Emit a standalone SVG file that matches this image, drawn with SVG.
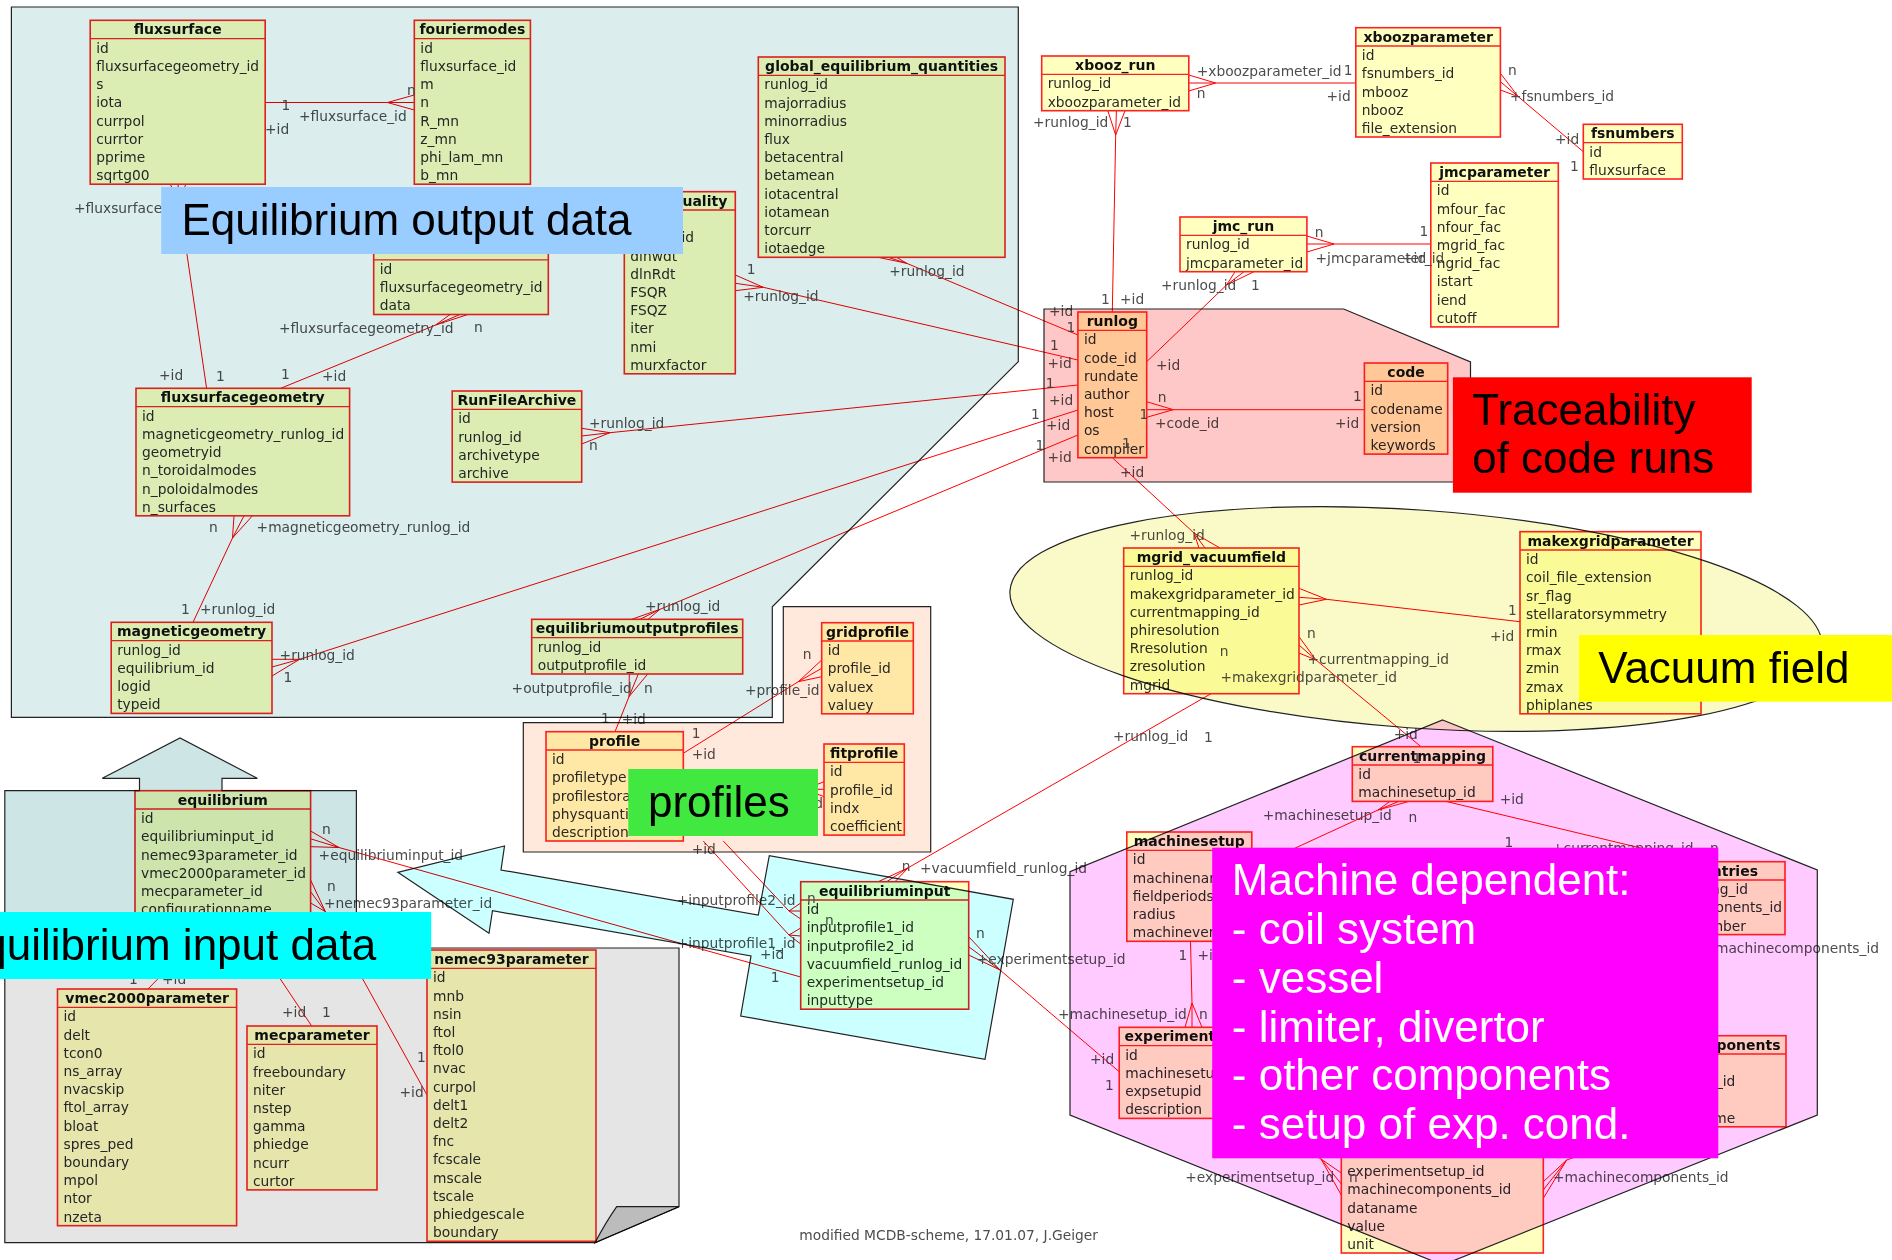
<svg xmlns="http://www.w3.org/2000/svg" width="1892" height="1260" viewBox="0 0 1892 1260">
<style>
.bx{fill:#ffffc0;stroke:#f22;stroke-width:1.6}
.sp{stroke:#f22;stroke-width:1.3}
.t{font:bold 14px "DejaVu Sans",sans-serif;fill:#111;text-anchor:middle}
.te{font:bold 14px "DejaVu Sans",sans-serif;fill:#111;text-anchor:end}
.r{font:13.8px "DejaVu Sans",sans-serif;fill:#2a2a2a}
.re{font:13.8px "DejaVu Sans",sans-serif;fill:#2a2a2a;text-anchor:end}
.l{font:13.8px "DejaVu Sans",sans-serif;fill:#4d4d4d}
.le{font:13.8px "DejaVu Sans",sans-serif;fill:#4d4d4d;text-anchor:end}
.cn{fill:none;stroke:#f00;stroke-width:1}
.rg{stroke:#222;stroke-width:1.2;mix-blend-mode:multiply}
.big{font:44px "Liberation Sans",Arial,sans-serif;fill:#000}
.bigw{font:44px "Liberation Sans",Arial,sans-serif;fill:#fff}
</style>
<rect width="1892" height="1260" fill="#fff"/>

<!-- relationship lines -->
<g id="connectors" class="cn">
<path d="M265.2 102.5H387.4L414.3 95M387.4 102.5L414.3 110M387.4 102.5H414.3"/>
<path d="M179 200L206.6 388.3M179 200L170 184M179 200L178 184M179 200L186 184"/>
<path d="M435.6 325L280.7 388.3M435.6 325L451 313.8M435.6 325L461.5 313.8M435.6 325L470 313.8"/>
<path d="M232.5 538L193 622.3M232.5 538L234 515.8M232.5 538L244 515.8M232.5 538L252.4 515.8"/>
<path d="M299.6 659.3L1077.9 410M299.6 659.3H272M299.6 659.3L272 667M299.6 659.3L272 676"/>
<path d="M610 432.7L1077.9 385M610 432.7L581.7 428.3M610 432.7L581.7 436M610 432.7L581.7 444"/>
<path d="M763.3 287.3L1077.9 360M763.3 287.3L735.3 275M763.3 287.3L735.3 283.3M763.3 287.3L735.3 290.7"/>
<path d="M906.7 263.3L1077.9 335M906.7 263.3L873.3 256.3M906.7 263.3L885 256.3M906.7 263.3L895 256.3"/>
<path d="M660 609.3L1077.9 435M660 609.3L631.7 619.3M660 609.3L640 619.3M660 609.3L648 619.3"/>
<path d="M629 696.7L615 731.7M629 696.7L629.3 674M629 696.7L638.3 674M629 696.7L647.7 674"/>
<path d="M683.3 753.3L798.3 681.7L821.7 660M798.3 681.7L821.7 668.3M798.3 681.7L821.7 676.7"/>
<path d="M683.3 772L805 789.3L824 781.7M805 789.3H824M805 789.3L824 796.7"/>
<path d="M723.3 841L789 911L800.7 903M789 911H800.7M789 911L800.7 919"/>
<path d="M703.3 841L789 935L800.7 928M789 935L800.7 936M789 935L800.7 944"/>
<path d="M339 847.5L800.7 977M339 847.5L310.6 831M339 847.5L310.6 838.8M339 847.5L310.6 846.7"/>
<path d="M325.4 911.7L427 1095M325.4 911.7L310.6 880M325.4 911.7L310.6 891.7M325.4 911.7L310.6 903"/>
<path d="M217 918L148 989"/>
<path d="M239.5 918L311.7 1026"/>
<path d="M1215.6 83H1355.8M1215.6 83L1188.8 75M1215.6 83H1188.8M1215.6 83L1188.8 91"/>
<path d="M1115.7 135L1112.3 312M1115.7 135L1107.8 110.7M1115.7 135L1116.4 110.7M1115.7 135L1125 110.7"/>
<path d="M1518.3 96.7L1583.3 151.7M1518.3 96.7L1500.4 73.3M1518.3 96.7L1500.4 81.7M1518.3 96.7L1500.4 90"/>
<path d="M1334 244H1430.8M1334 244L1306.9 236M1334 244H1306.9M1334 244L1306.9 252"/>
<path d="M1226.6 285L1146.7 361.7M1226.6 285L1235 271.7M1226.6 285L1244 271.7M1226.6 285L1254 271.7"/>
<path d="M1173.3 409.7H1364.4M1173.3 409.7L1146.7 401.7M1173.3 409.7H1146.7M1173.3 409.7L1146.7 417.3"/>
<path d="M1112.3 457.7L1194 533L1199 548M1194 533L1205 548M1194 533L1220 548"/>
<path d="M1326.5 599.3L1520 621.7M1326.5 599.3L1299 588.3M1326.5 599.3L1299 597.3M1326.5 599.3L1299 605"/>
<path d="M1316 660L1421 746.7M1316 660L1299 636.7M1316 660L1299 645M1316 660L1299 653"/>
<path d="M1211 693.7L908.3 867.7L878.3 881.7M908.3 867.7L886.7 881.7M908.3 867.7L895 881.7"/>
<path d="M1378 810L1251.8 868M1378 810L1390 801.4M1378 810L1398.8 801.4M1378 810L1409 801.4"/>
<path d="M1446 801.4L1698 861.7"/>
<path d="M1190.5 941.3L1192 1003L1185 1027.3M1192 1003V1027.3M1192 1003L1202 1027.3"/>
<path d="M1000 970L1119.2 1071.7M1000 970L968.7 936.7M1000 970L968.7 946.7M1000 970L968.7 955"/>
<path d="M1250 1118L1321 1159L1341.3 1173M1321 1159L1341.3 1184M1321 1159L1341.3 1195"/>
<path d="M1566.7 1160L1660 1127M1566.7 1160L1543.3 1181.7M1566.7 1160L1543.3 1190M1566.7 1160L1543.3 1198.3"/>
</g>

<!-- tables -->
<g id="fluxsurface">
<rect class="bx" x="90.2" y="20.3" width="175" height="163.9"/><line class="sp" x1="90.2" y1="38.6" x2="265.2" y2="38.6"/>
<text class="t" x="177.7" y="34.3">fluxsurface</text>
<text class="r" x="96.2" y="52.7">id</text><text class="r" x="96.2" y="70.9">fluxsurfacegeometry_id</text><text class="r" x="96.2" y="89.1">s</text><text class="r" x="96.2" y="107.3">iota</text><text class="r" x="96.2" y="125.5">currpol</text><text class="r" x="96.2" y="143.7">currtor</text><text class="r" x="96.2" y="161.9">pprime</text><text class="r" x="96.2" y="180.1">sqrtg00</text>
</g>
<g id="fouriermodes">
<rect class="bx" x="414.3" y="20.3" width="116.1" height="163.9"/><line class="sp" x1="414.3" y1="38.6" x2="530.4" y2="38.6"/>
<text class="t" x="472.35" y="34.3">fouriermodes</text>
<text class="r" x="420.3" y="52.7">id</text><text class="r" x="420.3" y="70.9">fluxsurface_id</text><text class="r" x="420.3" y="89.1">m</text><text class="r" x="420.3" y="107.3">n</text><text class="r" x="420.3" y="125.5">R_mn</text><text class="r" x="420.3" y="143.7">z_mn</text><text class="r" x="420.3" y="161.9">phi_lam_mn</text><text class="r" x="420.3" y="180.1">b_mn</text>
</g>
<g id="fluxsurface-data">
<rect class="bx" x="373.7" y="241.6" width="174.6" height="72.9"/><line class="sp" x1="373.7" y1="259.9" x2="548.3" y2="259.9"/>
<text class="r" x="379.7" y="274">id</text><text class="r" x="379.7" y="292.2">fluxsurfacegeometry_id</text><text class="r" x="379.7" y="310.4">data</text>
</g>
<g id="quality">
<rect class="bx" x="624.3" y="191.7" width="111" height="182.1"/><line class="sp" x1="624.3" y1="210" x2="735.3" y2="210"/>
<text class="te" x="727.3" y="205.7">quality</text>
<text class="r" x="630.3" y="242.3">runlog_id</text><text class="r" x="630.3" y="260.5">dlnwdt</text><text class="r" x="630.3" y="278.7">dlnRdt</text><text class="r" x="630.3" y="296.9">FSQR</text><text class="r" x="630.3" y="315.1">FSQZ</text><text class="r" x="630.3" y="333.3">iter</text><text class="r" x="630.3" y="351.5">nmi</text><text class="r" x="630.3" y="369.7">murxfactor</text>
</g>
<g id="global_equilibrium_quantities">
<rect class="bx" x="758.3" y="57" width="246.7" height="200.3"/><line class="sp" x1="758.3" y1="75.3" x2="1005" y2="75.3"/>
<text class="t" x="881.65" y="71">global_equilibrium_quantities</text>
<text class="r" x="764.3" y="89.4">runlog_id</text><text class="r" x="764.3" y="107.6">majorradius</text><text class="r" x="764.3" y="125.8">minorradius</text><text class="r" x="764.3" y="144">flux</text><text class="r" x="764.3" y="162.2">betacentral</text><text class="r" x="764.3" y="180.4">betamean</text><text class="r" x="764.3" y="198.6">iotacentral</text><text class="r" x="764.3" y="216.8">iotamean</text><text class="r" x="764.3" y="235">torcurr</text><text class="r" x="764.3" y="253.2">iotaedge</text>
</g>
<g id="fluxsurfacegeometry">
<rect class="bx" x="136" y="388.3" width="213.6" height="127.5"/><line class="sp" x1="136" y1="406.6" x2="349.6" y2="406.6"/>
<text class="t" x="242.8" y="402.3">fluxsurfacegeometry</text>
<text class="r" x="142" y="420.7">id</text><text class="r" x="142" y="438.9">magneticgeometry_runlog_id</text><text class="r" x="142" y="457.1">geometryid</text><text class="r" x="142" y="475.3">n_toroidalmodes</text><text class="r" x="142" y="493.5">n_poloidalmodes</text><text class="r" x="142" y="511.7">n_surfaces</text>
</g>
<g id="RunFileArchive">
<rect class="bx" x="452.2" y="391" width="129.5" height="91.1"/><line class="sp" x1="452.2" y1="409.3" x2="581.7" y2="409.3"/>
<text class="t" x="516.95" y="405">RunFileArchive</text>
<text class="r" x="458.2" y="423.4">id</text><text class="r" x="458.2" y="441.6">runlog_id</text><text class="r" x="458.2" y="459.8">archivetype</text><text class="r" x="458.2" y="478">archive</text>
</g>
<g id="magneticgeometry">
<rect class="bx" x="111.2" y="622.3" width="160.8" height="91.1"/><line class="sp" x1="111.2" y1="640.6" x2="272" y2="640.6"/>
<text class="t" x="191.6" y="636.3">magneticgeometry</text>
<text class="r" x="117.2" y="654.7">runlog_id</text><text class="r" x="117.2" y="672.9">equilibrium_id</text><text class="r" x="117.2" y="691.1">logid</text><text class="r" x="117.2" y="709.3">typeid</text>
</g>
<g id="equilibriumoutputprofiles">
<rect class="bx" x="531.7" y="619.3" width="211" height="54.7"/><line class="sp" x1="531.7" y1="637.6" x2="742.7" y2="637.6"/>
<text class="t" x="637.2" y="633.3">equilibriumoutputprofiles</text>
<text class="r" x="537.7" y="651.7">runlog_id</text><text class="r" x="537.7" y="669.9">outputprofile_id</text>
</g>
<g id="gridprofile">
<rect class="bx" x="821.7" y="622.7" width="91.6" height="91.1"/><line class="sp" x1="821.7" y1="641" x2="913.3" y2="641"/>
<text class="t" x="867.5" y="636.7">gridprofile</text>
<text class="r" x="827.7" y="655.1">id</text><text class="r" x="827.7" y="673.3">profile_id</text><text class="r" x="827.7" y="691.5">valuex</text><text class="r" x="827.7" y="709.7">valuey</text>
</g>
<g id="profile">
<rect class="bx" x="546" y="731.7" width="137.3" height="109.3"/><line class="sp" x1="546" y1="750" x2="683.3" y2="750"/>
<text class="t" x="614.65" y="745.7">profile</text>
<text class="r" x="552" y="764.1">id</text><text class="r" x="552" y="782.3">profiletype</text><text class="r" x="552" y="800.5">profilestorage</text><text class="r" x="552" y="818.7">physquantity</text><text class="r" x="552" y="836.9">description</text>
</g>
<g id="fitprofile">
<rect class="bx" x="824" y="744" width="80.3" height="91.1"/><line class="sp" x1="824" y1="762.3" x2="904.3" y2="762.3"/>
<text class="t" x="864.15" y="758">fitprofile</text>
<text class="r" x="830" y="776.4">id</text><text class="r" x="830" y="794.6">profile_id</text><text class="r" x="830" y="812.8">indx</text><text class="r" x="830" y="831">coefficient</text>
</g>
<g id="xbooz_run">
<rect class="bx" x="1041.7" y="56" width="147.1" height="54.7"/><line class="sp" x1="1041.7" y1="74.3" x2="1188.8" y2="74.3"/>
<text class="t" x="1115.25" y="70">xbooz_run</text>
<text class="r" x="1047.7" y="88.4">runlog_id</text><text class="r" x="1047.7" y="106.6">xboozparameter_id</text>
</g>
<g id="xboozparameter">
<rect class="bx" x="1355.8" y="27.7" width="144.6" height="109.3"/><line class="sp" x1="1355.8" y1="46" x2="1500.4" y2="46"/>
<text class="t" x="1428.1" y="41.7">xboozparameter</text>
<text class="r" x="1361.8" y="60.1">id</text><text class="r" x="1361.8" y="78.3">fsnumbers_id</text><text class="r" x="1361.8" y="96.5">mbooz</text><text class="r" x="1361.8" y="114.7">nbooz</text><text class="r" x="1361.8" y="132.9">file_extension</text>
</g>
<g id="fsnumbers">
<rect class="bx" x="1583.3" y="124.3" width="99" height="54.7"/><line class="sp" x1="1583.3" y1="142.6" x2="1682.3" y2="142.6"/>
<text class="t" x="1632.8" y="138.3">fsnumbers</text>
<text class="r" x="1589.3" y="156.7">id</text><text class="r" x="1589.3" y="174.9">fluxsurface</text>
</g>
<g id="jmc_run">
<rect class="bx" x="1180" y="217" width="126.9" height="54.7"/><line class="sp" x1="1180" y1="235.3" x2="1306.9" y2="235.3"/>
<text class="t" x="1243.45" y="231">jmc_run</text>
<text class="r" x="1186" y="249.4">runlog_id</text><text class="r" x="1186" y="267.6">jmcparameter_id</text>
</g>
<g id="jmcparameter">
<rect class="bx" x="1430.8" y="163" width="127.5" height="163.9"/><line class="sp" x1="1430.8" y1="181.3" x2="1558.3" y2="181.3"/>
<text class="t" x="1494.55" y="177">jmcparameter</text>
<text class="r" x="1436.8" y="195.4">id</text><text class="r" x="1436.8" y="213.6">mfour_fac</text><text class="r" x="1436.8" y="231.8">nfour_fac</text><text class="r" x="1436.8" y="250">mgrid_fac</text><text class="r" x="1436.8" y="268.2">ngrid_fac</text><text class="r" x="1436.8" y="286.4">istart</text><text class="r" x="1436.8" y="304.6">iend</text><text class="r" x="1436.8" y="322.8">cutoff</text>
</g>
<g id="runlog">
<rect class="bx" x="1077.9" y="312" width="68.8" height="145.7"/><line class="sp" x1="1077.9" y1="330.3" x2="1146.7" y2="330.3"/>
<text class="t" x="1112.3" y="326">runlog</text>
<text class="r" x="1083.9" y="344.4">id</text><text class="r" x="1083.9" y="362.6">code_id</text><text class="r" x="1083.9" y="380.8">rundate</text><text class="r" x="1083.9" y="399">author</text><text class="r" x="1083.9" y="417.2">host</text><text class="r" x="1083.9" y="435.4">os</text><text class="r" x="1083.9" y="453.6">compiler</text>
</g>
<g id="code">
<rect class="bx" x="1364.4" y="363" width="83.3" height="91.1"/><line class="sp" x1="1364.4" y1="381.3" x2="1447.7" y2="381.3"/>
<text class="t" x="1406.05" y="377">code</text>
<text class="r" x="1370.4" y="395.4">id</text><text class="r" x="1370.4" y="413.6">codename</text><text class="r" x="1370.4" y="431.8">version</text><text class="r" x="1370.4" y="450">keywords</text>
</g>
<g id="mgrid_vacuumfield">
<rect class="bx" x="1123.7" y="548" width="175.3" height="145.7"/><line class="sp" x1="1123.7" y1="566.3" x2="1299" y2="566.3"/>
<text class="t" x="1211.35" y="562">mgrid_vacuumfield</text>
<text class="r" x="1129.7" y="580.4">runlog_id</text><text class="r" x="1129.7" y="598.6">makexgridparameter_id</text><text class="r" x="1129.7" y="616.8">currentmapping_id</text><text class="r" x="1129.7" y="635">phiresolution</text><text class="r" x="1129.7" y="653.2">Rresolution</text><text class="r" x="1129.7" y="671.4">zresolution</text><text class="r" x="1129.7" y="689.6">mgrid</text>
</g>
<g id="makexgridparameter">
<rect class="bx" x="1520" y="531.7" width="181" height="182.1"/><line class="sp" x1="1520" y1="550" x2="1701" y2="550"/>
<text class="t" x="1610.5" y="545.7">makexgridparameter</text>
<text class="r" x="1526" y="564.1">id</text><text class="r" x="1526" y="582.3">coil_file_extension</text><text class="r" x="1526" y="600.5">sr_flag</text><text class="r" x="1526" y="618.7">stellaratorsymmetry</text><text class="r" x="1526" y="636.9">rmin</text><text class="r" x="1526" y="655.1">rmax</text><text class="r" x="1526" y="673.3">zmin</text><text class="r" x="1526" y="691.5">zmax</text><text class="r" x="1526" y="709.7">phiplanes</text>
</g>
<g id="equilibrium">
<rect class="bx" x="135" y="790.7" width="175.6" height="127.5"/><line class="sp" x1="135" y1="809" x2="310.6" y2="809"/>
<text class="t" x="222.8" y="804.7">equilibrium</text>
<text class="r" x="141" y="823.1">id</text><text class="r" x="141" y="841.3">equilibriuminput_id</text><text class="r" x="141" y="859.5">nemec93parameter_id</text><text class="r" x="141" y="877.7">vmec2000parameter_id</text><text class="r" x="141" y="895.9">mecparameter_id</text><text class="r" x="141" y="914.1">configurationname</text>
</g>
<g id="vmec2000parameter">
<rect class="bx" x="57.5" y="989" width="179.1" height="236.7"/><line class="sp" x1="57.5" y1="1007.3" x2="236.6" y2="1007.3"/>
<text class="t" x="147.05" y="1003">vmec2000parameter</text>
<text class="r" x="63.5" y="1021.4">id</text><text class="r" x="63.5" y="1039.6">delt</text><text class="r" x="63.5" y="1057.8">tcon0</text><text class="r" x="63.5" y="1076">ns_array</text><text class="r" x="63.5" y="1094.2">nvacskip</text><text class="r" x="63.5" y="1112.4">ftol_array</text><text class="r" x="63.5" y="1130.6">bloat</text><text class="r" x="63.5" y="1148.8">spres_ped</text><text class="r" x="63.5" y="1167">boundary</text><text class="r" x="63.5" y="1185.2">mpol</text><text class="r" x="63.5" y="1203.4">ntor</text><text class="r" x="63.5" y="1221.6">nzeta</text>
</g>
<g id="mecparameter">
<rect class="bx" x="247" y="1026" width="130" height="163.9"/><line class="sp" x1="247" y1="1044.3" x2="377" y2="1044.3"/>
<text class="t" x="312" y="1040">mecparameter</text>
<text class="r" x="253" y="1058.4">id</text><text class="r" x="253" y="1076.6">freeboundary</text><text class="r" x="253" y="1094.8">niter</text><text class="r" x="253" y="1113">nstep</text><text class="r" x="253" y="1131.2">gamma</text><text class="r" x="253" y="1149.4">phiedge</text><text class="r" x="253" y="1167.6">ncurr</text><text class="r" x="253" y="1185.8">curtor</text>
</g>
<g id="nemec93parameter">
<rect class="bx" x="427" y="950" width="169" height="291.3"/><line class="sp" x1="427" y1="968.3" x2="596" y2="968.3"/>
<text class="t" x="511.5" y="964">nemec93parameter</text>
<text class="r" x="433" y="982.4">id</text><text class="r" x="433" y="1000.6">mnb</text><text class="r" x="433" y="1018.8">nsin</text><text class="r" x="433" y="1037">ftol</text><text class="r" x="433" y="1055.2">ftol0</text><text class="r" x="433" y="1073.4">nvac</text><text class="r" x="433" y="1091.6">curpol</text><text class="r" x="433" y="1109.8">delt1</text><text class="r" x="433" y="1128">delt2</text><text class="r" x="433" y="1146.2">fnc</text><text class="r" x="433" y="1164.4">fcscale</text><text class="r" x="433" y="1182.6">mscale</text><text class="r" x="433" y="1200.8">tscale</text><text class="r" x="433" y="1219">phiedgescale</text><text class="r" x="433" y="1237.2">boundary</text>
</g>
<g id="equilibriuminput">
<rect class="bx" x="800.7" y="881.7" width="168" height="127.5"/><line class="sp" x1="800.7" y1="900" x2="968.7" y2="900"/>
<text class="t" x="884.7" y="895.7">equilibriuminput</text>
<text class="r" x="806.7" y="914.1">id</text><text class="r" x="806.7" y="932.3">inputprofile1_id</text><text class="r" x="806.7" y="950.5">inputprofile2_id</text><text class="r" x="806.7" y="968.7">vacuumfield_runlog_id</text><text class="r" x="806.7" y="986.9">experimentsetup_id</text><text class="r" x="806.7" y="1005.1">inputtype</text>
</g>
<g id="currentmapping">
<rect class="bx" x="1352.3" y="746.7" width="140.5" height="54.7"/><line class="sp" x1="1352.3" y1="765" x2="1492.8" y2="765"/>
<text class="t" x="1422.55" y="760.7">currentmapping</text>
<text class="r" x="1358.3" y="779.1">id</text><text class="r" x="1358.3" y="797.3">machinesetup_id</text>
</g>
<g id="machinesetup">
<rect class="bx" x="1126.8" y="832" width="125" height="109.3"/><line class="sp" x1="1126.8" y1="850.3" x2="1251.8" y2="850.3"/>
<text class="t" x="1189.3" y="846">machinesetup</text>
<text class="r" x="1132.8" y="864.4">id</text><text class="r" x="1132.8" y="882.6">machinename</text><text class="r" x="1132.8" y="900.8">fieldperiods</text><text class="r" x="1132.8" y="919">radius</text><text class="r" x="1132.8" y="937.2">machineversion</text>
</g>
<g id="experimentsetup">
<rect class="bx" x="1119.2" y="1027.3" width="145.8" height="91.1"/><line class="sp" x1="1119.2" y1="1045.6" x2="1265" y2="1045.6"/>
<text class="t" x="1192.1" y="1041.3">experimentsetup</text>
<text class="r" x="1125.2" y="1059.7">id</text><text class="r" x="1125.2" y="1077.9">machinesetup_id</text><text class="r" x="1125.2" y="1096.1">expsetupid</text><text class="r" x="1125.2" y="1114.3">description</text>
</g>
<g id="currententries">
<rect class="bx" x="1612" y="861.7" width="173" height="72.9"/><line class="sp" x1="1612" y1="880" x2="1785" y2="880"/>
<text class="te" x="1758" y="875.7">currententries</text>
<text class="r" x="1618" y="894.1">currentmapping_id</text><text class="r" x="1618" y="912.3">machinecomponents_id</text><text class="re" x="1746" y="930.5">number</text>
</g>
<g id="machinecomponents">
<rect class="bx" x="1612" y="1035.7" width="174" height="91.1"/><line class="sp" x1="1612" y1="1054" x2="1786" y2="1054"/>
<text class="t" x="1699" y="1049.7">machinecomponents</text>
<text class="r" x="1618" y="1068.1">id</text><text class="r" x="1618" y="1086.3">machinesetup_id</text><text class="r" x="1618" y="1122.7">componentname</text>
</g>
<g id="experimentdata">
<rect class="bx" x="1341.3" y="1125.5" width="202" height="127.5"/><line class="sp" x1="1341.3" y1="1143.8" x2="1543.3" y2="1143.8"/>
<text class="r" x="1347.3" y="1176.1">experimentsetup_id</text><text class="r" x="1347.3" y="1194.3">machinecomponents_id</text><text class="r" x="1347.3" y="1212.5">dataname</text><text class="r" x="1347.3" y="1230.7">value</text><text class="r" x="1347.3" y="1248.9">unit</text>
</g>

<!-- multiplicities and role names -->
<g id="connector-labels">
<text class="l" x="281.4" y="110">1</text><text class="l" x="265" y="134">+id</text><text class="l" x="299" y="121">+fluxsurface_id</text><text class="l" x="407" y="95">n</text>
<text class="l" x="74" y="213">+fluxsurfacegeometry_id</text><text class="l" x="159" y="380">+id</text><text class="l" x="216" y="381">1</text>
<text class="l" x="279" y="333">+fluxsurfacegeometry_id</text><text class="l" x="474" y="332">n</text><text class="l" x="281" y="379">1</text><text class="l" x="322" y="381">+id</text>
<text class="l" x="209" y="532">n</text><text class="l" x="256.6" y="532">+magneticgeometry_runlog_id</text><text class="l" x="181" y="614">1</text><text class="l" x="200" y="614">+runlog_id</text>
<text class="l" x="279.6" y="660">+runlog_id</text><text class="l" x="283.4" y="682">1</text><text class="l" x="1031" y="419">1</text><text class="l" x="1046" y="430">+id</text>
<text class="l" x="589" y="428">+runlog_id</text><text class="l" x="589" y="450">n</text><text class="l" x="1045.8" y="388">1</text><text class="l" x="1049" y="405">+id</text>
<text class="l" x="746.7" y="274">1</text><text class="l" x="743.3" y="301">+runlog_id</text><text class="l" x="1050" y="350">1</text><text class="l" x="1047.5" y="368">+id</text>
<text class="l" x="889.3" y="276">+runlog_id</text><text class="l" x="1049" y="316">+id</text><text class="l" x="1066.5" y="332">1</text>
<text class="l" x="645" y="611">+runlog_id</text><text class="l" x="1035.5" y="450">1</text><text class="l" x="1047.5" y="462">+id</text>
<text class="l" x="511.6" y="693">+outputprofile_id</text><text class="l" x="644" y="693">n</text><text class="l" x="601" y="723">1</text><text class="l" x="621.7" y="724">+id</text>
<text class="l" x="802.7" y="659">n</text><text class="l" x="745" y="695">+profile_id</text><text class="l" x="691.7" y="738">1</text><text class="l" x="691.7" y="759">+id</text>
<text class="l" x="806" y="777">n</text><text class="le" x="823" y="808">+profile_id</text>
<text class="l" x="691.7" y="854">+id</text><text class="l" x="676.7" y="905">+inputprofile2_id</text><text class="l" x="807" y="903">n</text><text class="l" x="676.7" y="948">+inputprofile1_id</text><text class="l" x="825" y="925">n</text>
<text class="l" x="322" y="834">n</text><text class="l" x="318.6" y="860">+equilibriuminput_id</text><text class="l" x="760" y="959">+id</text><text class="l" x="770.7" y="982">1</text>
<text class="l" x="327" y="891">n</text><text class="l" x="324" y="908">+nemec93parameter_id</text><text class="l" x="417" y="1062">1</text><text class="l" x="399.5" y="1097">+id</text>
<text class="l" x="129" y="984">1</text><text class="l" x="162" y="984">+id</text>
<text class="l" x="282" y="1017">+id</text><text class="l" x="322" y="1017">1</text>
<text class="l" x="1196.7" y="76">+xboozparameter_id</text><text class="l" x="1343.7" y="75">1</text><text class="l" x="1196.7" y="98">n</text><text class="l" x="1326.5" y="101">+id</text>
<text class="l" x="1033" y="127">+runlog_id</text><text class="l" x="1123" y="127">1</text><text class="l" x="1101" y="304">1</text><text class="l" x="1120" y="304">+id</text>
<text class="l" x="1508" y="75">n</text><text class="l" x="1510" y="101">+fsnumbers_id</text><text class="l" x="1555" y="144">+id</text><text class="l" x="1570" y="171">1</text>
<text class="l" x="1314.8" y="237">n</text><text class="l" x="1419.5" y="236">1</text><text class="l" x="1315.5" y="263">+jmcparameter_id</text><text class="l" x="1402" y="263">+id</text>
<text class="l" x="1161" y="290">+runlog_id</text><text class="l" x="1251" y="290">1</text><text class="l" x="1156" y="370">+id</text>
<text class="l" x="1157.8" y="402">n</text><text class="l" x="1139.5" y="419">1</text><text class="l" x="1155" y="428">+code_id</text><text class="l" x="1353" y="401">1</text><text class="l" x="1335" y="428">+id</text>
<text class="l" x="1122" y="448">1</text><text class="l" x="1120" y="477">+id</text><text class="l" x="1129.5" y="540">+runlog_id</text>
<text class="l" x="1508" y="615">1</text><text class="l" x="1490" y="641">+id</text><text class="l" x="1219.7" y="656">n</text><text class="l" x="1220.4" y="682">+makexgridparameter_id</text>
<text class="l" x="1307" y="638">n</text><text class="l" x="1307.5" y="664">+currentmapping_id</text><text class="l" x="1393.7" y="739">+id</text><text class="l" x="1412.6" y="763">1</text>
<text class="l" x="1113" y="741">+runlog_id</text><text class="l" x="1204" y="742">1</text><text class="l" x="901.7" y="871">n</text><text class="l" x="920" y="873">+vacuumfield_runlog_id</text>
<text class="l" x="1262.8" y="820">+machinesetup_id</text><text class="l" x="1408.5" y="822">n</text>
<text class="l" x="1499.7" y="804">+id</text><text class="l" x="1504.5" y="847">1</text><text class="l" x="1552" y="853">+currentmapping_id</text><text class="l" x="1710" y="853">n</text>
<text class="l" x="1178.4" y="960">1</text><text class="l" x="1197.4" y="960">+id</text><text class="l" x="1057.9" y="1019">+machinesetup_id</text><text class="l" x="1199" y="1019">n</text>
<text class="l" x="976" y="938">n</text><text class="l" x="976.7" y="964">+experimentsetup_id</text><text class="l" x="1090" y="1064">+id</text><text class="l" x="1105" y="1090">1</text>
<text class="l" x="1185.3" y="1182">+experimentsetup_id</text><text class="l" x="1349" y="1182">n</text>
<text class="l" x="1553" y="1182">+machinecomponents_id</text>
<text class="le" x="1879" y="953">+machinecomponents_id</text>
<text class="l" x="799.3" y="1240">modified MCDB-scheme, 17.01.07, J.Geiger</text>
</g>

<!-- grouping areas, tinting whatever lies beneath -->
<g id="regions">
<path class="rg" fill="#dbeded" d="M11.4 7H1018.3V361.7L772.3 606.7V717.3H11.4Z"/>
<path class="rg" fill="#ffc8c8" d="M1044 309H1343.7L1470.5 362V482H1044Z"/>
<ellipse class="rg" fill="#fafac8" cx="1416" cy="619" rx="407" ry="109" transform="rotate(4 1416 619)"/>
<path class="rg" fill="#ffe8dc" d="M523.3 722.7H783.3V606.7H930.7V852H523.3Z"/>
<path class="rg" fill="#cde5e5" d="M4.8 790.7H139.5V778.3H102.3L180 738L257.3 778.3H222V790.7H356.4V927H4.8Z"/>
<path class="rg" fill="#e5e5e5" d="M4.8 948H679V1206.7L595 1242.7H4.8Z"/>
<path class="rg" fill="#d2d2d2" d="M679 1206.7H616.7Q606 1222 595 1242.7Z"/>
<path class="rg" fill="#ccffff" d="M397.8 872.3L504.5 846L501 870L758.3 915L769.3 855.7L1013.3 899.3L985 1059.3L740.7 1016L751 956L492.5 910.7L489 933.3Z"/>
<path class="rg" fill="#ffcaff" d="M1442.6 720L1817.3 870V1115L1442.6 1265L1070 1115V871.7Z"/>
</g>

<!-- captions -->
<g id="caption-output"><rect x="161.2" y="187" width="521.8" height="67" fill="#99ccff"/><text class="big" x="181.5" y="235">Equilibrium output data</text></g>
<g id="caption-trace"><rect x="1452.9" y="377.3" width="298.8" height="115.4" fill="#ff0000"/><text class="big" x="1472.2" y="425">Traceability</text><text class="big" x="1472.2" y="473">of code runs</text></g>
<g id="caption-vacuum"><rect x="1579" y="635" width="313" height="66.7" fill="#ffff00"/><text class="big" x="1598.3" y="683.3">Vacuum field</text></g>
<g id="caption-profiles"><rect x="628.3" y="769" width="189.7" height="67" fill="#40e840"/><text class="big" x="648" y="817">profiles</text></g>
<g id="caption-input"><rect x="0" y="912" width="431.2" height="67" fill="#00ffff"/><text class="big" x="-47" y="960">Equilibrium input data</text></g>
<g id="caption-machine"><rect x="1212.2" y="847.7" width="506.1" height="310.6" fill="#ff00ff"/>
<text class="bigw" x="1231.8" y="895">Machine dependent:</text>
<text class="bigw" x="1231.8" y="944">- coil system</text>
<text class="bigw" x="1231.8" y="993">- vessel</text>
<text class="bigw" x="1231.8" y="1042">- limiter, divertor</text>
<text class="bigw" x="1231.8" y="1090">- other components</text>
<text class="bigw" x="1231.8" y="1138.5">- setup of exp. cond.</text>
</g>
</svg>
